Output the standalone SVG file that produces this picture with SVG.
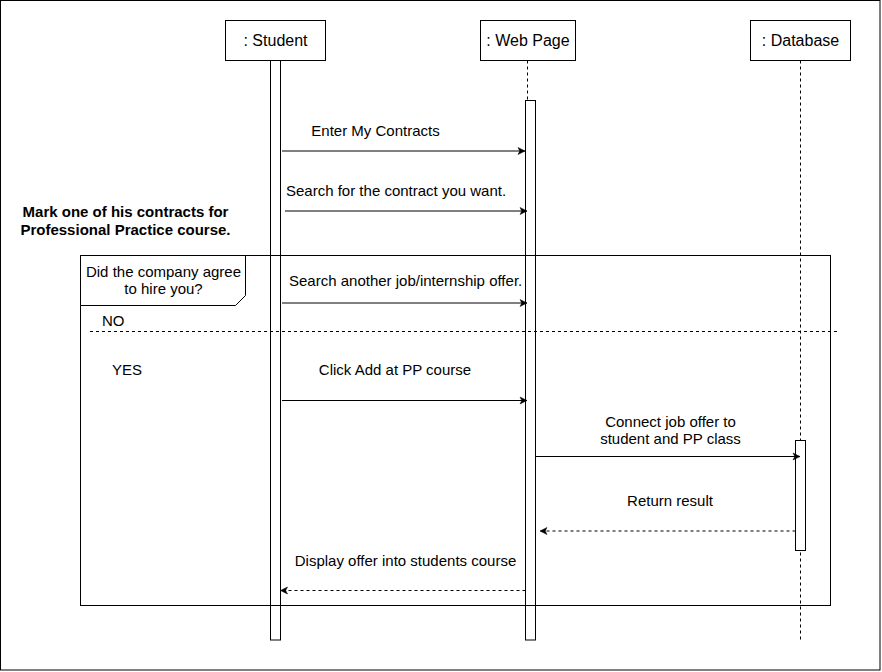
<svg xmlns="http://www.w3.org/2000/svg" width="882" height="672" viewBox="0 0 882 672">
  <style>
    .box { fill: #fff; stroke: #000; stroke-width: 1; }
    .life { fill: none; stroke: #000; stroke-width: 1; stroke-dasharray: 3 3; }
    .t { font-family: "Liberation Sans", Arial, sans-serif; font-size: 15px; fill: #000; }
    .title { font-family: "Liberation Sans", Arial, sans-serif; font-size: 16px; fill: #000; text-anchor: middle; }
    .b { font-weight: bold; }
    .msg { fill: none; stroke: #000; stroke-width: 1; }
    .ret { fill: none; stroke: #000; stroke-width: 1; stroke-dasharray: 3 3; }
    .mid { text-anchor: middle; }
  </style>
  <defs>
    <marker id="arr" markerUnits="userSpaceOnUse" markerWidth="10" markerHeight="10" viewBox="-1 -5 10 10" refX="7" refY="0" orient="auto">
      <path d="M0,-3.5 L7,0 L0,3.5 L1.8,0 Z" fill="#000" stroke="#000" stroke-width="0.5"/>
    </marker>
  </defs>

  <rect x="0.5" y="0.5" width="879.5" height="669.5" fill="#fff" stroke="#000"/>

  <g id="student">
    <rect class="box" x="225.5" y="20.5" width="100" height="40"/>
    <text class="title" x="275.5" y="46">: Student</text>
    <line class="life" x1="275.5" y1="60.5" x2="275.5" y2="640"/>
    <rect class="box" x="270.5" y="60.5" width="10" height="579.5"/>
  </g>

  <g id="webpage">
    <rect class="box" x="480.5" y="20.5" width="95" height="40"/>
    <text class="title" x="528" y="46">: Web Page</text>
    <line class="life" x1="527.5" y1="60.5" x2="527.5" y2="100.5"/>
    <rect class="box" x="525.5" y="100.5" width="10" height="539.5"/>
  </g>

  <g id="database">
    <rect class="box" x="750.5" y="20.5" width="100" height="40"/>
    <text class="title" x="800.5" y="46">: Database</text>
    <line class="life" x1="800.5" y1="60.5" x2="800.5" y2="640"/>
    <rect class="box" x="795.5" y="440.5" width="10" height="110"/>
  </g>

  <g id="note">
    <text class="t b mid" x="125.5" y="217">Mark one of his contracts for</text>
    <text class="t b mid" x="125.5" y="235">Professional Practice course.</text>
  </g>

  <g id="alt-frame">
    <rect x="80.5" y="255.5" width="750" height="350" fill="none" stroke="#000"/>
    <path d="M80.5,255.5 L245.5,255.5 L245.5,295.5 L235.5,305.5 L80.5,305.5 Z" fill="#fff" stroke="#000"/>
    <text class="t mid" x="163.5" y="277">Did the company agree</text>
    <text class="t mid" x="163.5" y="294">to hire you?</text>
    <line x1="90" y1="331.5" x2="838" y2="331.5" stroke="#000" stroke-dasharray="3 3"/>
    <text class="t" x="102" y="326">NO</text>
    <text class="t" x="112" y="375">YES</text>
  </g>

  <g id="connectors">
    <line class="msg" x1="282" y1="151" x2="525" y2="151" marker-end="url(#arr)"/>
    <line class="msg" x1="285" y1="211" x2="527" y2="211" marker-end="url(#arr)"/>
    <line class="msg" x1="282" y1="303" x2="527" y2="303" marker-end="url(#arr)"/>
    <line class="msg" x1="282" y1="400.5" x2="527" y2="400.5" marker-end="url(#arr)"/>
    <line class="msg" x1="535.5" y1="456.5" x2="800" y2="456.5" marker-end="url(#arr)"/>
    <line class="ret" x1="795.5" y1="531" x2="540" y2="531" marker-end="url(#arr)"/>
    <line class="ret" x1="525.5" y1="590.5" x2="280.5" y2="590.5" marker-end="url(#arr)"/>
  </g>

  <g id="labels">
    <text class="t mid" x="375.5" y="136">Enter My Contracts</text>
    <text class="t" x="286" y="196">Search for the contract you want.</text>
    <text class="t" x="289" y="286">Search another job/internship offer.</text>
    <text class="t mid" x="395" y="375">Click Add at PP course</text>
    <text class="t mid" x="670.5" y="427">Connect job offer to</text>
    <text class="t mid" x="670.5" y="444">student and PP class</text>
    <text class="t mid" x="670" y="506">Return result</text>
    <text class="t mid" x="405.5" y="566">Display offer into students course</text>
  </g>
</svg>
